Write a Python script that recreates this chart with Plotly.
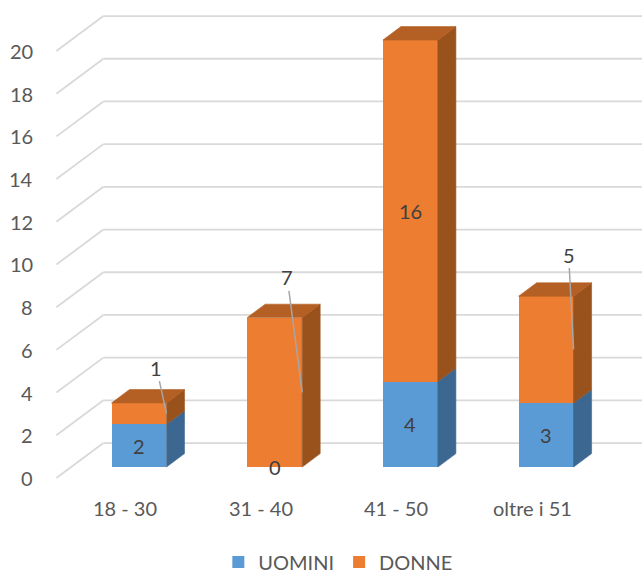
import plotly.graph_objects as go

# ---- data ----
categories = ["18 - 30", "31 - 40", "41 - 50", "oltre i 51"]
uomini = [2, 0, 4, 3]
donne = [1, 7, 16, 5]
y_ticks = [0, 2, 4, 6, 8, 10, 12, 14, 16, 18, 20]

# ---- colours ----
BLUE, BLUE_SIDE, BLUE_TOP = "#5B9BD5", "#3B6790", "#4A80B2"
ORANGE, ORANGE_SIDE, ORANGE_TOP = "#ED7D31", "#9A521D", "#B45F23"
GRID = "#D9D9D9"
AXIS_TEXT = "#595959"
LABEL_TEXT = "#404040"
FONT = "Lato"

# ---- oblique 3D projection ----
# one full unit of depth shifts a point right (category units) and up (value units)
DEPTH_X = 0.3464
DEPTH_Y = 1.636
WALL_FRONT = -0.314   # front edge of the side wall / floor
WALL_BACK = 0.686     # back wall plane
BAR_DEPTH = 0.383
BAR_WIDTH = 0.405


def proj(x, v, d):
    return x + d * DEPTH_X, v + d * DEPTH_Y


fig = go.Figure()

# front faces of the stacked bars
xs = list(range(len(categories)))
fig.add_trace(go.Bar(x=xs, y=uomini, width=BAR_WIDTH, name="UOMINI",
                     marker=dict(color=BLUE, line=dict(width=0))))
fig.add_trace(go.Bar(x=xs, y=donne, width=BAR_WIDTH, name="DONNE",
                     marker=dict(color=ORANGE, line=dict(width=0))))


def face(points, color):
    px = [p[0] for p in points] + [points[0][0]]
    py = [p[1] for p in points] + [points[0][1]]
    fig.add_trace(go.Scatter(x=px, y=py, mode="lines", fill="toself",
                             fillcolor=color, line=dict(color=color, width=0.6),
                             hoverinfo="skip", showlegend=False))


# side and top faces
dx, dy = BAR_DEPTH * DEPTH_X, BAR_DEPTH * DEPTH_Y
for i in xs:
    segments = [(0, uomini[i], BLUE_SIDE, BLUE_TOP),
                (uomini[i], uomini[i] + donne[i], ORANGE_SIDE, ORANGE_TOP)]
    segments = [s for s in segments if s[1] > s[0]]
    right = i + BAR_WIDTH / 2
    left = i - BAR_WIDTH / 2
    for base, top, side_c, _ in segments:
        face([(right, base), (right, top), (right + dx, top + dy), (right + dx, base + dy)], side_c)
    top = segments[-1][1]
    face([(left, top), (right, top), (right + dx, top + dy), (left + dx, top + dy)], segments[-1][3])

# gridlines on the side wall and back wall
shapes = []
for t in y_ticks:
    x0, y0 = proj(-0.5, t, WALL_FRONT)
    x1, y1 = proj(-0.5, t, WALL_BACK)
    x2, y2 = proj(3.6, t, WALL_BACK)
    shapes.append(dict(type="line", x0=x0, y0=y0, x1=x1, y1=y1, layer="below",
                       line=dict(color=GRID, width=1.8)))
    shapes.append(dict(type="line", x0=x1, y0=y1, x1=x2, y1=y2, layer="below",
                       line=dict(color=GRID, width=1.8)))

annotations = []
# value axis labels at the front edge of the side wall
for t in y_ticks:
    x0, y0 = proj(-0.5, t, WALL_FRONT)
    annotations.append(dict(x=x0, y=y0, text=str(t), showarrow=False,
                            xanchor="right", yanchor="middle", xshift=-21,
                            font=dict(family=FONT, size=20, color=AXIS_TEXT)))

# category labels along the floor edge
for i, c in enumerate(categories):
    annotations.append(dict(x=i, y=0, text=c, showarrow=False,
                            xanchor="center", yanchor="middle",
                            xshift=-14, yshift=-41,
                            font=dict(family=FONT, size=20, color=AXIS_TEXT)))

# UOMINI value labels, centred in their segment
for i, u in enumerate(uomini):
    annotations.append(dict(x=i, y=u / 2, text=str(u), showarrow=False,
                            xanchor="center", yanchor="middle",
                            font=dict(family=FONT, size=20, color=LABEL_TEXT)))

# DONNE value labels: centred, or pulled out with a leader line
leader_offsets = {0: (-10, -46), 1: (-15, -115), 3: (-5, -95)}
for i, d in enumerate(donne):
    mid = uomini[i] + d / 2
    if i in leader_offsets:
        ax, ay = leader_offsets[i]
        annotations.append(dict(x=i + BAR_WIDTH / 2, y=mid, text=str(d),
                                showarrow=True, arrowhead=0, arrowwidth=1.5,
                                arrowcolor="#A6A6A6", ax=ax, ay=ay, standoff=0,
                                font=dict(family=FONT, size=20, color=LABEL_TEXT)))
    else:
        annotations.append(dict(x=i, y=mid, text=str(d), showarrow=False,
                                xanchor="center", yanchor="middle",
                                font=dict(family=FONT, size=20, color=LABEL_TEXT)))

W, H = 642, 576
fig.update_layout(
    width=W, height=H, autosize=False,
    margin=dict(l=0, r=0, t=0, b=0, autoexpand=False),
    paper_bgcolor="white", plot_bgcolor="white",
    barmode="stack", bargap=0,
    shapes=shapes, annotations=annotations,
    showlegend=True,
    legend=dict(orientation="h", x=0.527, xanchor="center",
                y=1 - 562 / H, yanchor="middle",
                font=dict(family=FONT, size=20, color=AXIS_TEXT),
                itemwidth=30, traceorder="normal"),
    xaxis=dict(range=[-139 / 135.7, (W - 139) / 135.7], visible=False, fixedrange=True),
    yaxis=dict(range=[(467 - H) / 21.35, 467 / 21.35], visible=False, fixedrange=True),
)

fig.write_html("out.html")
